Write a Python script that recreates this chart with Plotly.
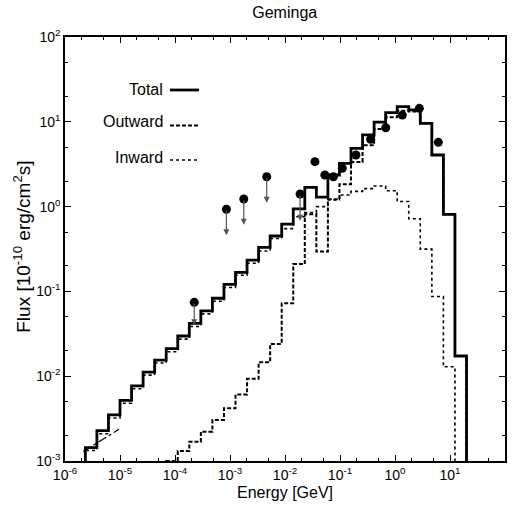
import numpy as np
import plotly.graph_objects as go

# log10 of the histogram bin edges [GeV]
log_edges = [-5.63, -5.42, -5.21, -5.00, -4.79, -4.58, -4.37, -4.16, -3.95, -3.74,
             -3.53, -3.32, -3.11, -2.90, -2.69, -2.48, -2.27, -2.06, -1.85, -1.64,
             -1.43, -1.22, -1.01, -0.80, -0.59, -0.38, -0.17, 0.04, 0.25, 0.46,
             0.67, 0.88, 1.09, 1.30]

total = [1.44e-3, 2.28e-3, 3.5e-3, 5.2e-3, 7.7e-3, 0.0112, 0.0155, 0.0211, 0.0298, 0.042,
         0.059, 0.083, 0.121, 0.168, 0.234, 0.33, 0.45, 0.62, 0.94, 1.69,
         1.29, 2.36, 3.24, 4.87, 7.0, 9.9, 12.8, 15.1, 13.8, 9.6,
         4.06, 0.81, 0.0173]

outward = [None, None, None, None, None, None, 1e-4, 1.0e-3, 1.31e-3, 1.69e-3,
           2.22e-3, 3.04e-3, 4.18e-3, 6.1e-3, 9.3e-3, 0.0146, 0.024, 0.0724, 0.21, 0.81,
           0.295, 1.22, 1.83, 3.36, 5.3, 8.2, 11.3, 13.5, 13.2, 9.6,
           4.06, 0.81, 0.0173]

inward = [1.33e-3, 2.1e-3, 3.22e-3, 4.8e-3, 7.1e-3, 0.0103, 0.0143, 0.0194, 0.0274, 0.0386,
          0.0543, 0.0764, 0.111, 0.155, 0.215, 0.30, 0.42, 0.55, 0.76, 0.85,
          1.0, 1.2, 1.37, 1.51, 1.63, 1.75, 1.54, 1.15, 0.72, 0.315,
          0.087, 0.0129, 1e-4]

# measured points
det_energy = [0.035, 0.053, 0.0757, 0.110, 0.195, 0.361, 0.678, 1.36, 2.77, 6.14]
det_flux = [3.39, 2.36, 2.25, 2.83, 4.06, 6.22, 8.5, 12.0, 14.4, 5.73]

# upper limits (circle + arrow down)
ul_energy = [2.24e-4, 8.6e-4, 1.78e-3, 4.65e-3, 0.0188]
ul_flux = [0.0743, 0.93, 1.23, 2.25, 1.41]
ul_tip = [0.040, 0.46, 0.61, 1.11, 0.68]

# low energy dash-dot segment
seg_energy = [2.15e-6, 9.6e-6]
seg_flux = [1.29e-3, 2.37e-3]

x_tickvals = [1e-6, 1e-5, 1e-4, 1e-3, 1e-2, 1e-1, 1e0, 1e1, 1e2]
x_ticktext = ["10<sup>-6</sup>", "10<sup>-5</sup>", "10<sup>-4</sup>", "10<sup>-3</sup>",
              "10<sup>-2</sup>", "10<sup>-1</sup>", "10<sup>0</sup>", "10<sup>1</sup>",
              "10<sup>2</sup>"]
y_tickvals = [1e-3, 1e-2, 1e-1, 1e0, 1e1, 1e2]
y_ticktext = ["10<sup>-3</sup>", "10<sup>-2</sup>", "10<sup>-1</sup>", "10<sup>0</sup>",
              "10<sup>1</sup>", "10<sup>2</sup>"]

edges = [10 ** e for e in log_edges]


def steps(vals):
    xs = [edges[0]] + edges[:-1] + [edges[-1], edges[-1]]
    ys = [1e-4] + list(vals) + [vals[-1], 1e-4]
    return xs, ys


font = "Liberation Sans, Arial"

fig = go.Figure()

x, y = steps(inward)
fig.add_trace(go.Scatter(x=x, y=y, mode="lines", line_shape="hv",
                         line=dict(color="black", width=1.6, dash="dot")))
x, y = steps(total)
fig.add_trace(go.Scatter(x=x, y=y, mode="lines", line_shape="hv",
                         line=dict(color="black", width=2.8)))
x, y = steps(outward)
fig.add_trace(go.Scatter(x=x, y=y, mode="lines", line_shape="hv", connectgaps=False,
                         line=dict(color="black", width=2, dash="4px,2px")))

fig.add_trace(go.Scatter(x=seg_energy, y=seg_flux, mode="lines",
                         line=dict(color="black", width=1.3, dash="dashdot")))

fig.add_trace(go.Scatter(x=det_energy + ul_energy, y=det_flux + ul_flux, mode="markers",
                         marker=dict(color="black", size=9, symbol="circle")))

for e, f, t in zip(ul_energy, ul_flux, ul_tip):
    fig.add_annotation(x=np.log10(e), y=np.log10(t), ax=np.log10(e), ay=np.log10(f),
                       xref="x", yref="y", axref="x", ayref="y", text="",
                       showarrow=True, arrowhead=2, arrowsize=1, arrowwidth=1.2,
                       arrowcolor="#555")

# legend drawn by hand: label on the left, line sample on the right
legend_items = [("Total", 0.877, 0.875, dict(color="black", width=2.8)),
                ("Outward", 0.800, 0.791, dict(color="black", width=2, dash="4px,2px")),
                ("Inward", 0.716, 0.710, dict(color="black", width=1.6, dash="dot"))]
for name, ty, ly, ln in legend_items:
    fig.add_annotation(x=0.227, y=ty, xref="paper", yref="paper", text=name,
                       showarrow=False, xanchor="right", yanchor="middle",
                       font=dict(family=font, size=16, color="black"))
    fig.add_shape(type="line", xref="paper", yref="paper", x0=0.2386, x1=0.3045,
                  y0=ly, y1=ly, line=ln)

# axis titles as annotations for exact placement
fig.add_annotation(x=0.5, y=-0.075, xref="paper", yref="paper", text="Energy [GeV]",
                   showarrow=False, xanchor="center", yanchor="middle",
                   font=dict(family=font, size=16, color="black"))
fig.add_annotation(x=-0.098, y=0.505, xref="paper", yref="paper",
                   text="Flux [10<sup>-10</sup> erg/cm<sup>2</sup>s]", textangle=-90,
                   showarrow=False, xanchor="center", yanchor="middle",
                   font=dict(family=font, size=19, color="black"))

axis_common = dict(type="log", tickmode="array", showgrid=False, automargin=False,
                   zeroline=False, showline=True, linecolor="black", linewidth=1.5,
                   mirror="allticks", ticks="inside", ticklen=6, tickcolor="black",
                   tickfont=dict(family=font, size=14, color="black"),
                   minor=dict(ticks="inside", ticklen=3, dtick="D2", tickcolor="black"))

fig.update_xaxes(range=[-6, 2], tickvals=x_tickvals, ticktext=x_ticktext, **axis_common)
fig.update_yaxes(range=[-3, 2], tickvals=y_tickvals, ticktext=y_ticktext, **axis_common)

fig.update_layout(width=513, height=508, showlegend=False,
                  plot_bgcolor="white", paper_bgcolor="white",
                  margin=dict(l=65, r=8, t=37, b=47, pad=0, autoexpand=False),
                  title=dict(text="Geminga", x=0.555, xanchor="center", y=0.976, yanchor="middle",
                             font=dict(family=font, size=16, color="black")))

# drop the browser's default body margin so the figure sits at the window's corner
fig.write_html("out.html", config={"displayModeBar": False},
               post_script="document.body.style.margin='0';")
